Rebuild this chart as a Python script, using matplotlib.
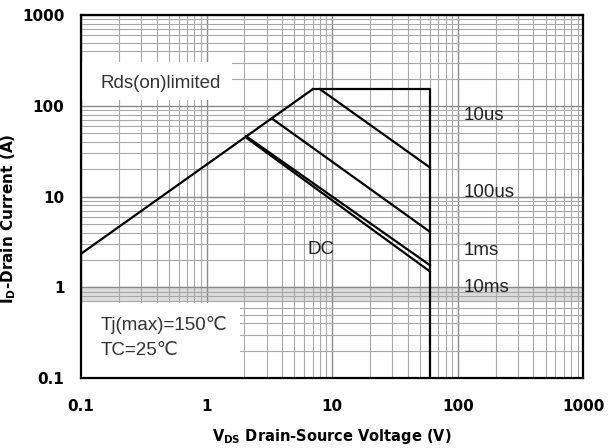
import matplotlib
matplotlib.use("Agg")
import matplotlib.pyplot as plt
from matplotlib.patches import Rectangle

# safe operating area curves (V, A)
rds_v = [0.1, 7.0]
rds_i = [2.35, 153]
limit_v = [7.0, 60, 60]
limit_i = [153, 153, 0.1]
pulse_v = {"10us": [8.0, 60], "100us": [3.3, 60], "1ms": [2.06, 60], "DC": [2.1, 60]}
pulse_i = {"10us": [153, 21], "100us": [73, 4.1], "1ms": [46.5, 1.76], "DC": [44, 1.5]}

curve_labels = ["10us", "100us", "1ms", "10ms"]
curve_label_y = [79, 11.2, 2.57, 1.0]

xticks = [0.1, 1, 10, 100, 1000]
yticks = [0.1, 1, 10, 100, 1000]
tick_text = ["0.1", "1", "10", "100", "1000"]

txt_font = ["Liberation Sans", "DejaVu Sans"]
txt_size = 13.5

fig = plt.figure(figsize=(6.14, 4.48), dpi=100)
ax = fig.add_axes([0.132, 0.156, 0.818, 0.81])
ax.set_xscale("log")
ax.set_yscale("log")
ax.set_xlim(0.1, 1000)
ax.set_ylim(0.1, 1000)

ax.grid(True, which="major", color="#8a8a8a", lw=1.0)
ax.grid(True, which="minor", color="#a8a8a8", lw=0.8)
ax.set_axisbelow(True)
ax.axhspan(0.72, 1.0, color="#dcdcdc", zorder=0)

# blank out the grid behind the note boxes
ax.add_patch(Rectangle((0, 0.766), 0.30, 0.105, transform=ax.transAxes,
                       facecolor="white", edgecolor="none", zorder=1))
ax.add_patch(Rectangle((0, 0), 0.317, 0.207, transform=ax.transAxes,
                       facecolor="white", edgecolor="none", zorder=1))

lw = 1.6
ax.plot(rds_v, rds_i, color="black", lw=lw, zorder=3)
ax.plot(limit_v, limit_i, color="black", lw=lw, zorder=3, solid_joinstyle="round")
for k in pulse_v:
    ax.plot(pulse_v[k], pulse_i[k], color="black", lw=lw, zorder=3)

for lab, yv in zip(curve_labels, curve_label_y):
    ax.text(112, yv, lab, fontsize=txt_size, family=txt_font, color="#222222",
            ha="left", va="center", zorder=4)
ax.text(8.2, 2.6, "DC", fontsize=txt_size, family=txt_font, color="#222222",
        ha="center", va="center", zorder=4)
ax.text(0.142, 178, "Rds(on)limited", fontsize=txt_size, family=txt_font,
        color="#333333", ha="left", va="center", zorder=4)
ax.text(0.142, 0.384, "Tj(max)=150\u2103", fontsize=txt_size, family=txt_font,
        color="#333333", ha="left", va="center", zorder=4)
ax.text(0.142, 0.204, "TC=25\u2103", fontsize=txt_size, family=txt_font,
        color="#333333", ha="left", va="center", zorder=4)

ax.set_xticks(xticks)
ax.set_xticklabels(tick_text)
ax.set_yticks(yticks)
ax.set_yticklabels(tick_text)
ax.tick_params(which="both", length=0)
ax.tick_params(axis="x", pad=15, labelsize=11)
ax.tick_params(axis="y", pad=12, labelsize=11)
for t in ax.get_xticklabels() + ax.get_yticklabels():
    t.set_fontweight("bold")

for s in ax.spines.values():
    s.set_linewidth(1.6)
    s.set_zorder(5)

ax.set_xlabel(r"V$_\mathbf{DS}$ Drain-Source Voltage (V)", fontsize=10.5,
              fontweight="bold")
ax.set_ylabel(r"I$_\mathbf{D}$-Drain Current (A)", fontsize=11,
              fontweight="bold")
ax.xaxis.set_label_coords(0.5, -0.136)
ax.yaxis.set_label_coords(-0.125, 0.44)

fig.savefig("out.png", dpi=100)
